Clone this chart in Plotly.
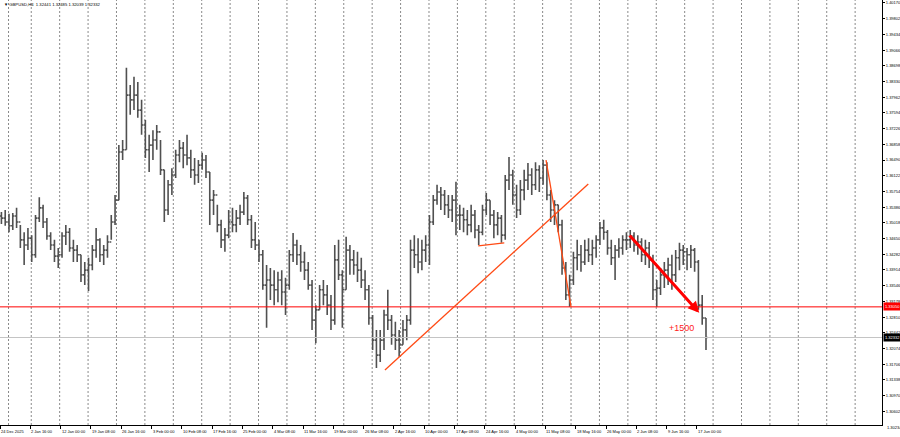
import plotly.graph_objects as go

# ---------------- data (GBPUSD H4, aggregated 4 bars per point) ----------------
high = [
    1.3527, 1.3532, 1.3523, 1.3525, 1.3537, 1.3497, 1.3480, 1.3490, 1.3473, 1.3520,
    1.3562, 1.3544, 1.3513, 1.3480, 1.3462, 1.3443, 1.3480, 1.3497, 1.3490, 1.3462,
    1.3450, 1.3427, 1.3410, 1.3420, 1.3450, 1.3490, 1.3466, 1.3450, 1.3473, 1.3520,
    1.3567, 1.3684, 1.3696, 1.3865, 1.3825, 1.3844, 1.3832, 1.3790, 1.3743, 1.3708,
    1.3719, 1.3731, 1.3696, 1.3626, 1.3602, 1.3630, 1.3673, 1.3696, 1.3691, 1.3708,
    1.3673, 1.3654, 1.3649, 1.3666, 1.3661, 1.3621, 1.3579, 1.3544, 1.3509, 1.3490,
    1.3532, 1.3537, 1.3532, 1.3544, 1.3574, 1.3567, 1.3520, 1.3504, 1.3462, 1.3438,
    1.3403, 1.3396, 1.3391, 1.3387, 1.3391, 1.3373, 1.3438, 1.3478, 1.3462, 1.3450,
    1.3434, 1.3410, 1.3368, 1.3309, 1.3356, 1.3368, 1.3356, 1.3333, 1.3450, 1.3462,
    1.3391, 1.3469, 1.3450, 1.3438, 1.3434, 1.3420, 1.3391, 1.3356, 1.3286, 1.3251,
    1.3251, 1.3298, 1.3345, 1.3286, 1.3270, 1.3251, 1.3274, 1.3286, 1.3462, 1.3473,
    1.3466, 1.3462, 1.3473, 1.3520, 1.3567, 1.3591, 1.3586, 1.3579, 1.3567, 1.3567,
    1.3598, 1.3544, 1.3537, 1.3532, 1.3544, 1.3532, 1.3497, 1.3544, 1.3572, 1.3555,
    1.3532, 1.3527, 1.3520, 1.3614, 1.3656, 1.3626, 1.3591, 1.3602, 1.3626, 1.3642,
    1.3630, 1.3644, 1.3637, 1.3649, 1.3644, 1.3579, 1.3555, 1.3544, 1.3509, 1.3410,
    1.3380, 1.3434, 1.3462, 1.3450, 1.3462, 1.3466, 1.3462, 1.3473, 1.3504, 1.3509,
    1.3485, 1.3462, 1.3450, 1.3466, 1.3473, 1.3480, 1.3485, 1.3480, 1.3473, 1.3466,
    1.3462, 1.3457, 1.3427, 1.3368, 1.3396, 1.3410, 1.3420, 1.3427, 1.3438, 1.3455,
    1.3450, 1.3443, 1.3450, 1.3443, 1.3415, 1.3333, 1.3279,
]
low = [
    1.3499, 1.3495, 1.3480, 1.3485, 1.3490, 1.3443, 1.3403, 1.3438, 1.3410, 1.3420,
    1.3504, 1.3490, 1.3462, 1.3438, 1.3410, 1.3396, 1.3420, 1.3450, 1.3434, 1.3410,
    1.3410, 1.3363, 1.3356, 1.3342, 1.3391, 1.3420, 1.3410, 1.3403, 1.3420, 1.3462,
    1.3497, 1.3555, 1.3649, 1.3673, 1.3755, 1.3766, 1.3748, 1.3708, 1.3654, 1.3621,
    1.3649, 1.3673, 1.3614, 1.3504, 1.3520, 1.3567, 1.3607, 1.3644, 1.3630, 1.3637,
    1.3607, 1.3591, 1.3595, 1.3626, 1.3607, 1.3497, 1.3520, 1.3480, 1.3443, 1.3434,
    1.3466, 1.3480, 1.3480, 1.3497, 1.3520, 1.3497, 1.3443, 1.3438, 1.3410, 1.3345,
    1.3256, 1.3321, 1.3309, 1.3316, 1.3309, 1.3286, 1.3345, 1.3410, 1.3403, 1.3387,
    1.3368, 1.3345, 1.3251, 1.3220, 1.3298, 1.3309, 1.3286, 1.3251, 1.3263, 1.3368,
    1.3256, 1.3345, 1.3380, 1.3380, 1.3363, 1.3349, 1.3321, 1.3263, 1.3204, 1.3162,
    1.3176, 1.3204, 1.3251, 1.3216, 1.3204, 1.3188, 1.3216, 1.3227, 1.3263, 1.3396,
    1.3384, 1.3391, 1.3410, 1.3403, 1.3497, 1.3544, 1.3532, 1.3520, 1.3513, 1.3504,
    1.3473, 1.3485, 1.3480, 1.3473, 1.3480, 1.3466, 1.3450, 1.3473, 1.3520, 1.3497,
    1.3466, 1.3473, 1.3455, 1.3462, 1.3579, 1.3544, 1.3513, 1.3520, 1.3555, 1.3579,
    1.3567, 1.3579, 1.3574, 1.3591, 1.3555, 1.3504, 1.3497, 1.3480, 1.3380, 1.3321,
    1.3305, 1.3356, 1.3391, 1.3387, 1.3403, 1.3410, 1.3403, 1.3420, 1.3450, 1.3462,
    1.3427, 1.3403, 1.3368, 1.3420, 1.3427, 1.3438, 1.3443, 1.3434, 1.3427, 1.3410,
    1.3403, 1.3396, 1.3321, 1.3305, 1.3333, 1.3349, 1.3356, 1.3345, 1.3363, 1.3391,
    1.3403, 1.3391, 1.3396, 1.3387, 1.3298, 1.3263, 1.32039,
]
close = [
    1.3513, 1.3504, 1.3495, 1.3518, 1.3504, 1.3462, 1.3450, 1.3466, 1.3427, 1.3513,
    1.3537, 1.3504, 1.3471, 1.3450, 1.3424, 1.3427, 1.3471, 1.3480, 1.3443, 1.3438,
    1.3427, 1.3380, 1.3391, 1.3403, 1.3438, 1.3462, 1.3427, 1.3438, 1.3457, 1.3504,
    1.3555, 1.3668, 1.3673, 1.3801, 1.3790, 1.3801, 1.3766, 1.3731, 1.3673, 1.3684,
    1.3696, 1.3715, 1.3626, 1.3532, 1.3591, 1.3614, 1.3661, 1.3677, 1.3661, 1.3654,
    1.3626, 1.3614, 1.3637, 1.3649, 1.3621, 1.3555, 1.3567, 1.3497, 1.3462, 1.3473,
    1.3504, 1.3497, 1.3513, 1.3527, 1.3560, 1.3509, 1.3462, 1.3450, 1.3427, 1.3356,
    1.3368, 1.3356, 1.3345, 1.3368, 1.3340, 1.3356, 1.3427, 1.3450, 1.3427, 1.3410,
    1.3391, 1.3356, 1.3274, 1.3298, 1.3345, 1.3333, 1.3309, 1.3274, 1.3415, 1.3380,
    1.3345, 1.3438, 1.3415, 1.3403, 1.3391, 1.3368, 1.3345, 1.3279, 1.3227, 1.3192,
    1.3227, 1.3286, 1.3274, 1.3239, 1.3227, 1.3216, 1.3251, 1.3274, 1.3438, 1.3427,
    1.3410, 1.3438, 1.3450, 1.3504, 1.3555, 1.3574, 1.3567, 1.3544, 1.3532, 1.3555,
    1.3520, 1.3520, 1.3509, 1.3497, 1.3520, 1.3485, 1.3480, 1.3532, 1.3555, 1.3520,
    1.3497, 1.3513, 1.3473, 1.3602, 1.3614, 1.3567, 1.3532, 1.3579, 1.3602, 1.3614,
    1.3591, 1.3626, 1.3607, 1.3637, 1.3567, 1.3532, 1.3544, 1.3497, 1.3396, 1.3333,
    1.3368, 1.3420, 1.3427, 1.3410, 1.3438, 1.3427, 1.3443, 1.3462, 1.3490, 1.3480,
    1.3443, 1.3420, 1.3438, 1.3443, 1.3462, 1.3462, 1.3471, 1.3450, 1.3457, 1.3427,
    1.3443, 1.3415, 1.3345, 1.3349, 1.3380, 1.3391, 1.3403, 1.3380, 1.3420, 1.3438,
    1.3434, 1.3427, 1.3438, 1.3410, 1.3309, 1.3279, 1.32332,
]
first_open = 1.3518
bars_per_point = 4

# time axis (H4 bar index) labels, every 32 bars
tick_labels = [
    "24 Dec 2025", "2 Jan 16:00", "12 Jan 00:00", "19 Jan 08:00", "26 Jan 16:00",
    "3 Feb 00:00", "10 Feb 08:00", "17 Feb 16:00", "25 Feb 00:00", "4 Mar 08:00",
    "11 Mar 16:00", "19 Mar 00:00", "26 Mar 08:00", "2 Apr 16:00", "10 Apr 00:00",
    "17 Apr 08:00", "24 Apr 16:00", "4 May 00:00", "11 May 08:00", "18 May 16:00",
    "26 May 00:00", "2 Jun 08:00", "9 Jun 16:00", "17 Jun 00:00",
]
label_step_bars = 32
# week separators (bar index of each Monday open)
week_bars = [9, 33, 63, 93, 123, 153, 183, 213, 243, 273, 303, 333, 363, 393, 423,
             453, 483, 513, 543, 573, 603, 633, 663, 693, 723, 753, 783, 813, 843,
             873, 903]

price_ticks = [1.40170, 1.39802, 1.39434, 1.39066, 1.38698, 1.38330, 1.37962,
               1.37594, 1.37226, 1.36858, 1.36490, 1.36122, 1.35754, 1.35386,
               1.35018, 1.34650, 1.34282, 1.33914, 1.33546, 1.33178, 1.32810,
               1.32442, 1.32074, 1.31706, 1.31338, 1.30970, 1.30602]
bottom_price_label = 1.30234

level_price = 1.33050
bid_price = 1.32332
header = "GBPUSD,H4  1.32441 1.32485 1.32039 1.32332"

# drawn objects: (bar, price) pairs
trend_long = [(406.5, 1.3157), (621.2, 1.3593)]
trend_short = [(505.0, 1.3448), (532.5, 1.3455)]
trend_drop = [(576.6, 1.3649), (603.0, 1.3305)]
arrow_pts = [(663.5, 1.3476), (738.4, 1.3291)]
profit_text = (719.6, 1.3256, "+1500")

# ---------------- figure ----------------
x = [bars_per_point * k + 1.5 for k in range(len(close))]
open_ = [first_open] + close[:-1]

W, H = 900, 437
ML, MR, MT, MB = 0, 18, 0, 12
PH = H - MT - MB
px_per_bar = 0.947
x_max = (W - ML - MR) / px_per_bar
y_top = 1.40240
y_bot = 1.30282

fig = go.Figure()
fig.add_trace(go.Ohlc(
    x=x, open=open_, high=high, low=low, close=close,
    increasing=dict(line=dict(color="#505050", width=1.6)),
    decreasing=dict(line=dict(color="#505050", width=1.6)),
    tickwidth=0.45, hoverinfo="skip", showlegend=False,
))

shapes = []
for b in week_bars:
    shapes.append(dict(type="line", xref="x", yref="paper", x0=b, x1=b, y0=0, y1=1,
                       line=dict(color="#8a8a8a", width=1, dash="2px,2px"), layer="below"))
shapes.append(dict(type="line", xref="paper", yref="y", x0=0, x1=1, y0=bid_price, y1=bid_price,
                   line=dict(color="#c4c4c4", width=1)))
shapes.append(dict(type="line", xref="paper", yref="y", x0=0, x1=1, y0=level_price, y1=level_price,
                   line=dict(color="#ff0000", width=1)))
for seg in (trend_long, trend_short, trend_drop):
    shapes.append(dict(type="line", xref="x", yref="y", x0=seg[0][0], y0=seg[0][1],
                       x1=seg[1][0], y1=seg[1][1], line=dict(color="#ff4a14", width=1.3)))

annotations = []
for i, lab in enumerate(tick_labels):
    annotations.append(dict(x=i * label_step_bars, xref="x", y=-6.5 / PH, yref="paper",
                            text=lab, showarrow=False, xanchor="left", yanchor="middle",
                            font=dict(size=4, color="#000000", family="Liberation Sans"),
                            borderpad=0))
annotations.append(dict(x=1, xref="paper", y=-(427 - PH) / PH, yref="paper",
                        text=f"{bottom_price_label:.5f}", showarrow=False,
                        xanchor="left", yanchor="middle", xshift=3,
                        font=dict(size=4, color="#000000", family="Liberation Sans")))
annotations.append(dict(x=0.002, xref="paper", y=1 - 5 / PH, yref="paper",
                        text="▼ " + header, showarrow=False, xanchor="left", yanchor="middle",
                        font=dict(size=4.2, color="#000000", family="Liberation Sans")))
annotations.append(dict(x=arrow_pts[1][0], y=arrow_pts[1][1], xref="x", yref="y",
                        ax=arrow_pts[0][0], ay=arrow_pts[0][1], axref="x", ayref="y",
                        showarrow=True, arrowhead=2, arrowsize=0.75, arrowwidth=3,
                        arrowcolor="#ff0000", text=""))
annotations.append(dict(x=profit_text[0], y=profit_text[1], xref="x", yref="y",
                        text=profit_text[2], showarrow=False,
                        font=dict(size=9, color="#ff1a1a", family="Liberation Sans")))
for p, bg in ((level_price, "#ff0000"), (bid_price, "#000000")):
    annotations.append(dict(x=1, xref="paper", y=p, yref="y", text=f"{p:.5f}",
                            showarrow=False, xanchor="left", yanchor="middle",
                            bgcolor=bg, borderpad=1, xshift=1,
                            font=dict(size=4, color="#ffffff", family="Liberation Sans")))

fig.update_layout(
    width=W, height=H, margin=dict(l=ML, r=MR, t=MT, b=MB),
    paper_bgcolor="white", plot_bgcolor="white",
    shapes=shapes, annotations=annotations, showlegend=False,
    xaxis=dict(range=[0, x_max], showgrid=False, zeroline=False,
               tickvals=[i * label_step_bars for i in range(len(tick_labels))],
               showticklabels=False, ticks="outside", ticklen=3, tickcolor="#000",
               showline=True, linecolor="#000", linewidth=1,
               rangeslider=dict(visible=False), automargin=False, fixedrange=True),
    yaxis=dict(range=[y_bot, y_top], side="right", showgrid=False, zeroline=False,
               tickvals=price_ticks, ticktext=[f"{p:.5f}" for p in price_ticks],
               ticks="outside", ticklen=2, tickcolor="#000",
               tickfont=dict(size=4, color="#000", family="Liberation Sans"),
               showline=True, linecolor="#000", linewidth=1, automargin=False,
               fixedrange=True),
)

fig.write_html("out.html")
